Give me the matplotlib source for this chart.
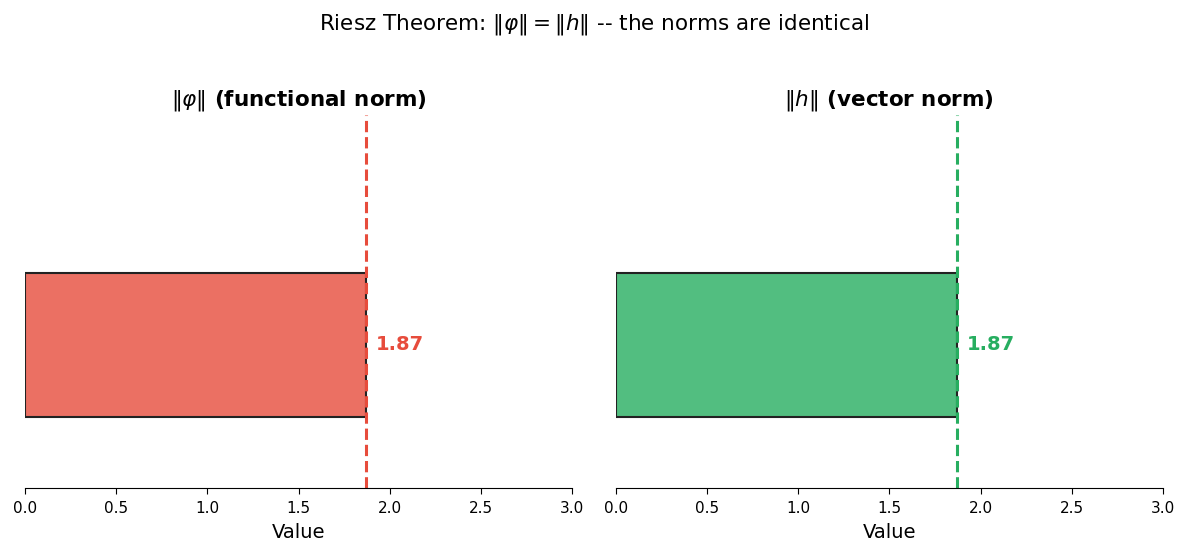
import matplotlib
matplotlib.use("Agg")
import matplotlib.pyplot as plt
from matplotlib.colors import to_rgba

# Data
panels = [r"$\|\varphi\|$ (functional norm)", r"$\|h\|$ (vector norm)"]
norm_values = [1.87, 1.87]
colors = ["#e74c3c", "#27ae60"]
xticks = [0.0, 0.5, 1.0, 1.5, 2.0, 2.5, 3.0]

fig, axes = plt.subplots(1, 2, figsize=(11.88, 5.55), dpi=100)

for ax, title, val, col in zip(axes, panels, norm_values, colors):
    ax.barh([0], [val], height=0.5, color=to_rgba(col, 0.8),
            edgecolor="#222222", linewidth=1.5)
    ax.axvline(val, color=col, linestyle="--", linewidth=2.2)
    ax.text(val + 0.055, 0, f"{val:.2f}", va="center", ha="left",
            fontsize=14, fontweight="bold", color=col)
    ax.set_xlim(0, 3.0)
    ax.set_ylim(-0.5, 0.8)
    ax.set_xticks(xticks)
    ax.set_yticks([])
    ax.tick_params(axis="x", labelsize=11, length=4.5, pad=4.5)
    ax.set_xlabel("Value", fontsize=14, labelpad=5)
    ax.set_title(title, fontsize=15.5, fontweight="bold", pad=7)
    for s in ["top", "right", "left"]:
        ax.spines[s].set_visible(False)

fig.suptitle(r"Riesz Theorem: $\|\varphi\| = \|h\|$ -- the norms are identical",
             fontsize=15.5, y=0.978)
fig.subplots_adjust(left=0.021, right=0.979, top=0.793, bottom=0.12, wspace=0.08)
fig.savefig("out.png")
